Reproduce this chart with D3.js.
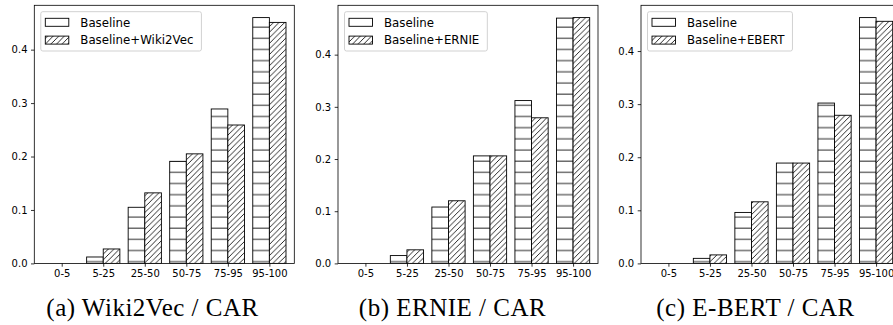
<!DOCTYPE html>
<html>
<head>
<meta charset="utf-8">
<script src="https://cdn.jsdelivr.net/npm/d3@7"></script>
<style>
  body { margin: 0; background: #fff; }
  svg { display: block; }
</style>
</head>
<body>
<script>
// data
const categories = ["0-5", "5-25", "25-50", "50-75", "75-95", "95-100"];
const yTicks = [0, 0.1, 0.2, 0.3, 0.4];

const wikiBase = [0, 0.012, 0.105, 0.191, 0.289, 0.460];
const wikiExt  = [0, 0.027, 0.132, 0.205, 0.259, 0.451];
const ernieBase = [0, 0.015, 0.108, 0.206, 0.312, 0.470];
const ernieExt  = [0, 0.026, 0.120, 0.206, 0.279, 0.471];
const ebertBase = [0, 0.0095, 0.096, 0.189, 0.302, 0.463];
const ebertExt  = [0, 0.016, 0.116, 0.189, 0.279, 0.456];

const extNames = ["Baseline+Wiki2Vec", "Baseline+ERNIE", "Baseline+EBERT"];
const captions = ["(a) Wiki2Vec / CAR", "(b) ERNIE / CAR", "(c) E-BERT / CAR"];

const panels = [
  {base: wikiBase, ext: wikiExt},
  {base: ernieBase, ext: ernieExt},
  {base: ebertBase, ext: ebertExt}
];

// layout
const W = 893, H = 325;
const panelLeft = [34.3, 338, 641];
const panelW = 260;
const plotTop = 5.3, plotBottom = 263.4;
const captionX = [152.5, 452.5, 755.5];
const barW = 0.4;
const xDomain = [-0.66, 5.6];
const hatchStep = 11.17;

const svg = d3.select("body").append("svg")
  .attr("width", W)
  .attr("height", H);

svg.append("rect").attr("width", W).attr("height", H).attr("fill", "#fff");

const defs = svg.append("defs");

// horizontal hatch ('-')
var hp = defs.append("pattern")
  .attr("id", "hHatch")
  .attr("patternUnits", "userSpaceOnUse")
  .attr("width", hatchStep)
  .attr("height", hatchStep);
hp.append("rect").attr("width", hatchStep).attr("height", hatchStep).attr("fill", "#fff");
var off = plotBottom - 1.7 - Math.floor((plotBottom - 1.7) / hatchStep) * hatchStep;
hp.append("line")
  .attr("x1", -1).attr("x2", hatchStep + 1)
  .attr("y1", off).attr("y2", off)
  .attr("stroke", "#111").attr("stroke-width", 0.9);

// diagonal hatch ('//')
var L = hatchStep;
var dp = defs.append("pattern")
  .attr("id", "dHatch")
  .attr("patternUnits", "userSpaceOnUse")
  .attr("width", L)
  .attr("height", L);
dp.append("rect").attr("width", L).attr("height", L).attr("fill", "#fff");
[[-1, 1, 1, -1], [-1, L/2 + 1, L/2 + 1, -1], [-1, L + 1, L + 1, -1],
 [L/2 - 1, L + 1, L + 1, L/2 - 1], [L - 1, L + 1, L + 1, L - 1]].forEach(s => {
  dp.append("line")
    .attr("x1", s[0]).attr("y1", s[1]).attr("x2", s[2]).attr("y2", s[3])
    .attr("stroke", "#111").attr("stroke-width", 0.9);
});

panels.forEach((p, k) => {
  var left = panelLeft[k];
  var x = d3.scaleLinear().domain(xDomain).range([left, left + panelW]);
  var ymax = 1.05 * d3.max(p.base.concat(p.ext));
  var y = d3.scaleLinear().domain([0, ymax]).range([plotBottom, plotTop]);

  defs.append("clipPath").attr("id", "clip" + k)
    .append("rect")
    .attr("x", left).attr("y", plotTop)
    .attr("width", panelW).attr("height", plotBottom - plotTop);

  var gBars = svg.append("g").attr("clip-path", "url(#clip" + k + ")");

  gBars.selectAll(".base").data(p.base)
    .enter().append("rect")
    .attr("class", "base")
    .attr("x", (d, i) => x(i - barW))
    .attr("width", (d, i) => x(i) - x(i - barW))
    .attr("y", d => y(d))
    .attr("height", d => y(0) - y(d))
    .attr("fill", "url(#hHatch)")
    .attr("stroke", "#000")
    .attr("stroke-width", 0.9);

  gBars.selectAll(".ext").data(p.ext)
    .enter().append("rect")
    .attr("class", "ext")
    .attr("x", (d, i) => x(i))
    .attr("width", (d, i) => x(i + barW) - x(i))
    .attr("y", d => y(d))
    .attr("height", d => y(0) - y(d))
    .attr("fill", "url(#dHatch)")
    .attr("stroke", "#000")
    .attr("stroke-width", 0.9);

  // axes
  var yAxis = d3.axisLeft(y)
    .tickValues(yTicks)
    .tickFormat(d3.format(".1f"))
    .tickSize(3.3)
    .tickSizeOuter(0)
    .tickPadding(3.5);
  var gy = svg.append("g")
    .attr("transform", "translate(" + left + ",0)")
    .call(yAxis);
  gy.select(".domain").remove();

  var xAxis = d3.axisBottom(x)
    .tickValues(d3.range(categories.length))
    .tickFormat(i => categories[i])
    .tickSize(3.3)
    .tickSizeOuter(0)
    .tickPadding(3.3);
  var gx = svg.append("g")
    .attr("transform", "translate(0," + plotBottom + ")")
    .call(xAxis);
  gx.select(".domain").remove();

  [gx, gy].forEach(g => {
    g.selectAll("text")
      .attr("fill", "#000")
      .style("font-family", "DejaVu Sans")
      .style("font-size", "10px");
    g.selectAll("line").attr("stroke", "#000").attr("stroke-width", 0.8);
  });

  // frame
  svg.append("rect")
    .attr("x", left).attr("y", plotTop)
    .attr("width", panelW).attr("height", plotBottom - plotTop)
    .attr("fill", "none")
    .attr("stroke", "#000")
    .attr("stroke-width", 0.8);

  // legend
  var gl = svg.append("g");
  var box = gl.append("rect")
    .attr("x", left + 6.5).attr("y", 11.7)
    .attr("height", 39.3)
    .attr("rx", 2)
    .attr("fill", "#fff").attr("fill-opacity", 0.8)
    .attr("stroke", "#ccc").attr("stroke-width", 0.9);
  var items = [{name: "Baseline", fill: "url(#hHatch)"}, {name: extNames[k], fill: "url(#dHatch)"}];
  var maxLen = 0;
  items.forEach((it, j) => {
    var cy = 22.3 + j * 17.8;
    gl.append("rect")
      .attr("x", left + 11).attr("y", cy - 4)
      .attr("width", 23.5).attr("height", 8)
      .attr("fill", j == 0 ? "#fff" : it.fill)
      .attr("stroke", "#000").attr("stroke-width", 0.9);
    var t = gl.append("text")
      .attr("x", left + 46).attr("y", cy)
      .attr("dy", "0.36em")
      .style("font-family", "DejaVu Sans")
      .style("font-size", "11.8px")
      .attr("fill", "#000")
      .text(it.name);
    maxLen = Math.max(maxLen, t.node().getComputedTextLength());
  });
  box.attr("width", 39.5 + maxLen + 8);

  // caption
  svg.append("text")
    .attr("x", captionX[k]).attr("y", 316)
    .attr("text-anchor", "middle")
    .style("font-family", "Liberation Serif")
    .style("font-size", "25px")
    .style("letter-spacing", "0.5px")
    .attr("fill", "#000")
    .text(captions[k]);
});
</script>
</body>
</html>
